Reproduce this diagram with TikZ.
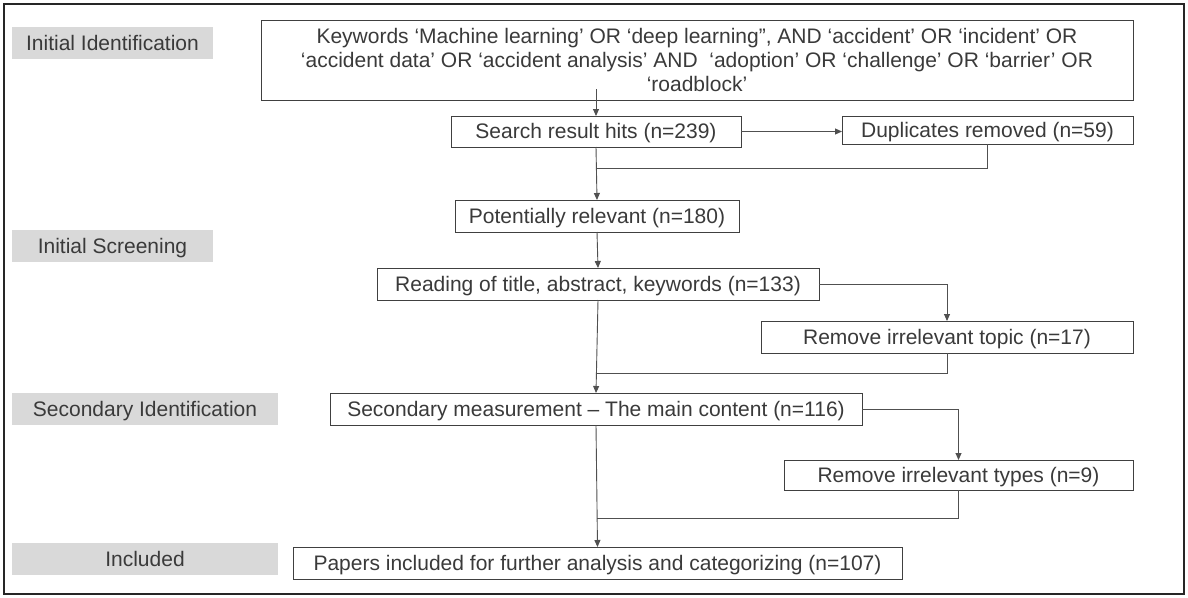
\documentclass[tikz,border=0pt]{standalone}
\usepackage{fontspec}
\setmainfont{Liberation Sans}
\usetikzlibrary{arrows.meta,calc}
\definecolor{txt}{HTML}{3A3A3A}
\definecolor{edge}{HTML}{404040}
\definecolor{lbl}{HTML}{D9D9D9}
\definecolor{wire}{HTML}{505050}
\begin{document}
\begin{tikzpicture}[x=1pt,y=-1pt,
  every node/.style={inner sep=0pt,outer sep=0pt,text=txt,font=\fontsize{21}{24}\selectfont},
  onel/.style={text height=15.5pt,text depth=1.5pt},
  flowbox/.style={draw=edge,line width=0.9pt,fill=white,align=center},
  labelbox/.style={fill=lbl,onel},
  wireline/.style={draw=wire,line width=0.9pt},
  arr/.style={wireline,-{Triangle[length=7pt,width=6pt]}}
]
\useasboundingbox (0,0) rectangle (1188,597);
\draw[line width=1.6pt,draw=black!85] (4,4) rectangle (1184,594);

% stage labels
\node[labelbox,minimum width=201,minimum height=32] (l1) at (112.5,43) {Initial Identification};
\node[labelbox,minimum width=201,minimum height=32] (l2) at (112.5,246) {Initial Screening};
\node[labelbox,minimum width=266,minimum height=32] (l3) at (145,409) {Secondary Identification};
\node[labelbox,minimum width=266,minimum height=32] (l4) at (145,559) {Included};

% flow boxes
\node[flowbox,minimum width=872,minimum height=80] (kw) at (697,60)
  {Keywords ‘Machine learning’ OR ‘deep learning”, AND ‘accident’ OR ‘incident’ OR\\
   ‘accident data’ OR ‘accident analysis’ AND~ ‘adoption’ OR ‘challenge’ OR ‘barrier’ OR\\
   ‘roadblock’};
\node[flowbox,onel,minimum width=290,minimum height=31] (search) at (596,131.5) {Search result hits (n=239)};
\node[flowbox,onel,minimum width=291,minimum height=28] (dup) at (987.5,130) {Duplicates removed (n=59)};
\node[flowbox,onel,minimum width=284,minimum height=32] (pot) at (597,216) {Potentially relevant (n=180)};
\node[flowbox,onel,minimum width=442,minimum height=32] (read) at (598,284) {Reading of title, abstract, keywords (n=133)};
\node[flowbox,onel,minimum width=372,minimum height=32] (rtopic) at (947,337) {Remove irrelevant topic (n=17)};
\node[flowbox,onel,minimum width=532,minimum height=32] (sec) at (596,409) {Secondary measurement – The main content (n=116)};
\node[flowbox,onel,minimum width=349,minimum height=30] (rtypes) at (958.5,475) {Remove irrelevant types (n=9)};
\node[flowbox,onel,minimum width=609,minimum height=32] (pap) at (597.5,563) {Papers included for further analysis and categorizing (n=107)};

% merge points
\coordinate (m1) at (597,168);
\coordinate (m2) at (597,373);
\coordinate (m3) at (597,518);

% connectors
\draw[arr] ([yshift=11pt]search.north |- kw.south) -- (search.north);
\draw[arr] (search.east) -- (search.east -| dup.west);
\draw[wireline] (dup.south) |- (m1);
\draw[arr] (search.south) -- (pot.north);
\draw[arr] (pot.south) -- (read.north);
\draw[arr] (read.east) -| (rtopic.north);
\draw[wireline] (rtopic.south) |- (m2);
\draw[arr] (read.south) -- (sec.north);
\draw[arr] (sec.east) -| (rtypes.north);
\draw[wireline] (rtypes.south) |- (m3);
\draw[arr] (sec.south) -- (pap.north);
\end{tikzpicture}
\end{document}
